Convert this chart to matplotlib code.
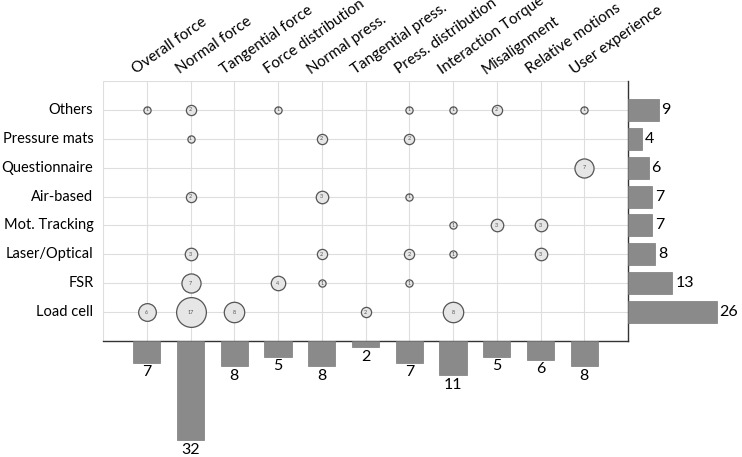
import matplotlib.pyplot as plt
import numpy as np

plt.rcParams['font.family'] = ['Lato', 'DejaVu Sans']

rows = ['Others', 'Pressure mats', 'Questionnaire', 'Air-based', 'Mot. Tracking',
        'Laser/Optical', 'FSR', 'Load cell']
cols = ['Overall force', 'Normal force', 'Tangential force', 'Force distribution',
        'Normal press.', 'Tangential press.', 'Press. distribution', 'Interaction Torque',
        'Misalignment', 'Relative motions', 'User experience']

# bubble counts, rows top to bottom
counts = [
    [1, 2, 0, 1, 0, 0, 1, 1, 2, 0, 1],
    [0, 1, 0, 0, 2, 0, 2, 0, 0, 0, 0],
    [0, 0, 0, 0, 0, 0, 0, 0, 0, 0, 7],
    [0, 2, 0, 0, 3, 0, 1, 0, 0, 0, 0],
    [0, 0, 0, 0, 0, 0, 0, 1, 3, 3, 0],
    [0, 3, 0, 0, 2, 0, 2, 1, 0, 3, 0],
    [0, 7, 0, 4, 1, 0, 1, 0, 0, 0, 0],
    [6, 17, 8, 0, 0, 2, 0, 8, 0, 0, 0],
]
row_totals = [9, 4, 6, 7, 7, 8, 13, 26]
col_totals = [7, 32, 8, 5, 8, 2, 7, 11, 5, 6, 8]

bar_col = '#8a8a8a'
grid_col = '#dedede'

fig = plt.figure(figsize=(7.42, 4.57), dpi=100)
W, H = 742, 457
x0, x1, ytop, ybot = 103, 628, 81, 341

ax = fig.add_axes([x0 / W, 1 - ybot / H, (x1 - x0) / W, (ybot - ytop) / H])
ny = len(rows)
ypos = np.arange(ny, 0, -1)
xpos = np.arange(1, len(cols) + 1)

for x in range(0, len(cols) + 1):
    ax.axvline(x, color=grid_col, lw=0.8, zorder=0)
for y in range(1, ny + 2):
    ax.axhline(y, color=grid_col, lw=0.8, zorder=0)

for i, r in enumerate(rows):
    for j, c in enumerate(cols):
        v = counts[i][j]
        if v == 0:
            continue
        ax.scatter(xpos[j], ypos[i], s=27 * v, facecolor='#e6e6e6', edgecolor='#555555',
                   linewidth=0.9, zorder=3)
        ax.text(xpos[j], ypos[i], str(v), fontsize=4, ha='center', va='center',
                color='#555555', zorder=4)

ax.set_xlim(0, len(cols) + 1)
ax.set_ylim(0, ny + 1)
ax.set_xticks([])
ax.set_yticks([])
for s in ['left', 'top']:
    ax.spines[s].set_visible(False)
for s in ['right', 'bottom']:
    ax.spines[s].set_color('#333333')
    ax.spines[s].set_linewidth(1.0)

for i, r in enumerate(rows):
    ax.text(-0.22, ypos[i], r, ha='right', va='center', fontsize=10.5, color='black')
for j, c in enumerate(cols):
    ax.text(xpos[j] - 0.2, ny + 1.15, c, ha='left', va='bottom', rotation=35,
            rotation_mode='anchor', fontsize=11, color='black')

# right bars
axr = fig.add_axes([x1 / W, 1 - ybot / H, (W - x1) / W, (ybot - ytop) / H])
axr.barh(ypos, row_totals, height=0.76, color=bar_col, edgecolor='#7a7a7a', linewidth=0.5)
for i, v in enumerate(row_totals):
    axr.text(v + 0.8, ypos[i], str(v), ha='left', va='center', fontsize=11.5)
axr.set_xlim(0, (W - x1) / 3.42)
axr.set_ylim(0, ny + 1)
axr.axis('off')

# bottom bars
axb = fig.add_axes([x0 / W, 0, (x1 - x0) / W, (H - ybot) / H])
axb.bar(xpos, col_totals, width=0.62, color=bar_col, edgecolor='#7a7a7a', linewidth=0.5)
for j, v in enumerate(col_totals):
    axb.text(xpos[j], v + 0.9, str(v), ha='center', va='top', fontsize=11.5)
axb.set_xlim(0, len(cols) + 1)
axb.set_ylim((H - ybot) / 3.1, 0)
axb.axis('off')

fig.savefig('out.png', dpi=100)
